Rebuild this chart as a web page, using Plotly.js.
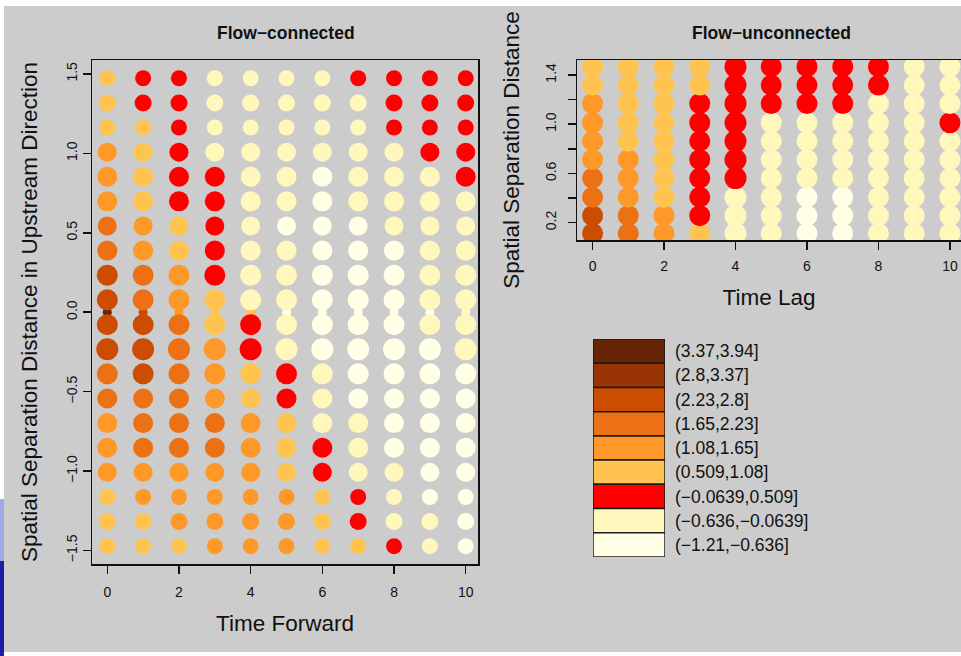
<!DOCTYPE html>
<html>
<head>
<meta charset="utf-8">
<script src="https://cdn.plot.ly/plotly-3.0.1.min.js"></script>
<style>
  html, body { margin: 0; padding: 0; background: #ffffff; overflow: hidden; }
  #chart { width: 961px; height: 656px; }
</style>
</head>
<body>
<div id="chart"></div>
<script>
// ---------- DATA ----------
// Bin classes (1 = lowest bin ... 9 = highest bin)
const binLabels = ['(3.37,3.94]', '(2.8,3.37]', '(2.23,2.8]', '(1.65,2.23]', '(1.08,1.65]',
                   '(0.509,1.08]', '(\u22120.0639,0.509]', '(\u22120.636,\u22120.0639]', '(\u22121.21,\u22120.636]'];
const binClasses = [9, 8, 7, 6, 5, 4, 3, 2, 1];
const binColors = { 1: '#FFFFE5', 2: '#FFF7BC', 3: '#FF0000', 4: '#FEC44F', 5: '#FE9929',
                    6: '#EC7014', 7: '#CC4C02', 8: '#993404', 9: '#662506' };

// Flow-connected panel
const timeForward = [0, 1, 2, 3, 4, 5, 6, 7, 8, 9, 10];
const connSeparation = [1.473, 1.318, 1.163, 1.008, 0.853, 0.698, 0.543, 0.388, 0.233, 0.078,
                        -0.078, -0.233, -0.388, -0.543, -0.698, -0.853, -1.008, -1.163, -1.318, -1.473];
const connRowSize = [16, 17, 16, 19, 20, 20, 19, 20, 21, 21, 21, 22, 21, 20, 20, 20, 19, 16, 17, 16];
const connClass = [
  [4, 3, 3, 2, 2, 2, 2, 3, 3, 3, 3],
  [4, 3, 3, 2, 2, 2, 2, 2, 3, 3, 3],
  [4, 4, 3, 2, 2, 2, 2, 2, 3, 3, 3],
  [5, 4, 3, 2, 2, 2, 2, 2, 2, 3, 3],
  [5, 4, 3, 3, 2, 2, 1, 2, 2, 2, 3],
  [5, 4, 3, 3, 2, 2, 1, 2, 2, 2, 2],
  [6, 5, 4, 3, 2, 1, 1, 1, 2, 2, 2],
  [6, 5, 4, 3, 2, 2, 1, 1, 1, 2, 2],
  [7, 6, 5, 3, 2, 2, 1, 1, 1, 2, 2],
  [7, 6, 5, 4, 2, 2, 1, 1, 1, 2, 2],
  [7, 7, 6, 4, 3, 2, 1, 1, 1, 2, 2],
  [7, 7, 6, 5, 3, 2, 1, 1, 1, 1, 2],
  [6, 7, 6, 5, 4, 3, 2, 1, 1, 1, 1],
  [6, 6, 6, 5, 4, 3, 2, 1, 1, 1, 1],
  [5, 6, 6, 6, 5, 4, 2, 2, 1, 1, 1],
  [5, 6, 6, 6, 5, 4, 3, 2, 1, 1, 1],
  [5, 5, 5, 5, 5, 4, 3, 2, 2, 1, 1],
  [4, 5, 5, 5, 5, 5, 4, 3, 2, 1, 1],
  [4, 4, 5, 5, 5, 5, 4, 3, 2, 2, 1],
  [4, 4, 4, 5, 5, 5, 4, 4, 3, 2, 1]
];
// zero-separation row (small points)
const connZeroSeparation = 0;
const connZeroSize = 9;
const connZeroClass = [9, 7, 5, 4, 4, 1, 1, 1, 1, 1, 2];

// Flow-unconnected panel
const timeLag = [0, 1, 2, 3, 4, 5, 6, 7, 8, 9, 10];
const unconnSeparation = [1.468, 1.318, 1.168, 1.012, 0.862, 0.712, 0.562, 0.407, 0.257, 0.113];
const unconnSize = [21, 21, 21, 21, 22, 21, 21, 21, 21, 21, 21];
const unconnClass = [
  [4, 4, 4, 4, 3, 3, 3, 3, 3, 2, 2],
  [4, 4, 4, 4, 3, 3, 3, 3, 3, 2, 2],
  [5, 4, 4, 3, 3, 3, 3, 3, 2, 2, 2],
  [5, 4, 4, 3, 3, 2, 2, 2, 2, 2, 3],
  [5, 4, 4, 3, 3, 2, 2, 2, 2, 2, 2],
  [5, 5, 4, 3, 3, 2, 2, 2, 2, 2, 2],
  [6, 5, 4, 3, 3, 2, 2, 2, 2, 2, 2],
  [6, 5, 4, 3, 2, 2, 1, 1, 2, 2, 2],
  [7, 6, 5, 3, 2, 2, 1, 1, 2, 2, 2],
  [7, 6, 5, 4, 2, 2, 1, 1, 2, 2, 2]
];

// ---------- BUILD TRACES ----------
function buildPoints(xs, ys, classes, sizeFn) {
  const px = [], py = [], pc = [], ps = [];
  // draw from bottom row to top row (higher rows on top)
  const order = ys.map((v, i) => i).sort((a, b) => ys[a] - ys[b]);
  order.forEach(r => {
    xs.forEach((x, c) => {
      px.push(x); py.push(ys[r]);
      pc.push(binColors[classes[r][c]]);
      ps.push(sizeFn(r, c));
    });
  });
  return { px, py, pc, ps };
}

const conn = buildPoints(timeForward, connSeparation, connClass, (r) => connRowSize[r]);
const unconn = buildPoints(timeLag, unconnSeparation, unconnClass, (r, c) => unconnSize[c]);

const traces = [
  {
    type: 'scatter', mode: 'markers', xaxis: 'x', yaxis: 'y',
    x: timeForward, y: timeForward.map(() => connZeroSeparation),
    marker: { color: connZeroClass.map(k => binColors[k]), size: connZeroSize, line: { width: 0 } },
    hoverinfo: 'skip', showlegend: false
  },
  {
    type: 'scatter', mode: 'markers', xaxis: 'x', yaxis: 'y',
    x: conn.px, y: conn.py,
    marker: { color: conn.pc, size: conn.ps, line: { width: 0 }, opacity: 1 },
    showlegend: false
  },
  {
    type: 'scatter', mode: 'markers', xaxis: 'x2', yaxis: 'y2',
    x: unconn.px, y: unconn.py, cliponaxis: true,
    marker: { color: unconn.pc, size: unconn.ps, line: { width: 0 }, opacity: 1 },
    showlegend: false
  },
  {
    type: 'bar', orientation: 'h', xaxis: 'x3', yaxis: 'y3',
    y: binLabels, x: binLabels.map(() => 1), width: binLabels.map(() => 1),
    marker: { color: binClasses.map(k => binColors[k]), line: { color: '#1a1a1a', width: 1.5 } },
    hoverinfo: 'skip', showlegend: false
  }
];

// ---------- LAYOUT ----------
const W = 961, H = 656;
const FONT = 'Liberation Sans, Arial, sans-serif';
const INK = '#111111';
const px2x = p => p / W;
const px2y = p => 1 - p / H;

const axisCommon = {
  showgrid: false, zeroline: false, showline: true, linecolor: INK, linewidth: 1.5,
  ticks: 'outside', ticklen: 8, tickwidth: 1.5, tickcolor: INK,
  tickfont: { family: FONT, size: 14, color: INK },
  fixedrange: true
};
const titleFont = { family: FONT, size: 22.5, color: INK };

const layout = {
  width: W, height: H,
  margin: { l: 0, r: 0, t: 0, b: 0, pad: 0 },
  paper_bgcolor: '#ffffff',
  plot_bgcolor: 'rgba(0,0,0,0)',
  font: { family: FONT, color: INK },
  showlegend: false,
  xaxis: Object.assign({}, axisCommon, {
    domain: [px2x(92), px2x(478)], range: [-0.427, 10.343], anchor: 'y',
    tickvals: [0, 2, 4, 6, 8, 10], mirror: true, ticklabelstandoff: 7,
    title: { text: 'Time Forward', font: titleFont, standoff: 16 }
  }),
  yaxis: Object.assign({}, axisCommon, {
    domain: [px2y(564), px2y(60)], range: [-1.585, 1.588], anchor: 'x',
    tickvals: [-1.5, -1, -0.5, 0, 0.5, 1, 1.5], tickformat: '.1f', tickangle: -90, mirror: true,
    ticklabelstandoff: 0,
    title: { text: 'Spatial Separation Distance in Upstream Direction', font: titleFont, standoff: 20 }
  }),
  xaxis2: Object.assign({}, axisCommon, {
    domain: [px2x(577), 1], range: [-0.435, 10.31], anchor: 'y2',
    tickvals: [0, 2, 4, 6, 8, 10], mirror: true, layer: 'below traces', ticklabelstandoff: 5,
    title: { text: 'Time Lag', font: titleFont, standoff: 16 }
  }),
  yaxis2: Object.assign({}, axisCommon, {
    domain: [px2y(240), px2y(60)], range: [0.059, 1.522], anchor: 'x2',
    tickvals: [0.2, 0.4, 0.6, 0.8, 1.0, 1.2, 1.4], ticktext: ['0.2', '', '0.6', '', '1.0', '', '1.4'],
    tickangle: -90, mirror: false, layer: 'below traces', ticklabelstandoff: 6,
    title: { text: 'Spatial Separation Distance', font: titleFont, standoff: 17 }
  }),
  xaxis3: {
    domain: [px2x(593), px2x(665)], range: [0, 1], anchor: 'y3',
    visible: false, fixedrange: true
  },
  yaxis3: {
    domain: [px2y(557), px2y(339)], anchor: 'x3', type: 'category', side: 'right',
    autorange: 'reversed', showgrid: false, zeroline: false, showline: false, ticks: '',
    ticklabelstandoff: 9, tickfont: { family: FONT, size: 17.5, color: INK }, fixedrange: true
  },
  bargap: 0,
  annotations: [
    { text: '<b>Flow\u2212connected</b>', xref: 'paper', yref: 'paper', x: px2x(286), y: px2y(33),
      xanchor: 'center', yanchor: 'middle', showarrow: false, font: { family: FONT, size: 17.5, color: INK } },
    { text: '<b>Flow\u2212unconnected</b>', xref: 'paper', yref: 'paper', x: px2x(771), y: px2y(33),
      xanchor: 'center', yanchor: 'middle', showarrow: false, font: { family: FONT, size: 17.5, color: INK } }
  ],
  shapes: [
    // grey device background
    { type: 'rect', xref: 'paper', yref: 'paper', layer: 'below',
      x0: px2x(4), x1: 1, y0: px2y(652), y1: px2y(6), fillcolor: '#cccccc', line: { width: 0 } },
    // page-edge stripes
    { type: 'rect', xref: 'paper', yref: 'paper', layer: 'below',
      x0: 0, x1: px2x(4), y0: px2y(561), y1: px2y(499), fillcolor: '#9ea9e6', line: { width: 0 } },
    { type: 'rect', xref: 'paper', yref: 'paper', layer: 'below',
      x0: 0, x1: px2x(4), y0: 0, y1: px2y(561), fillcolor: '#1c1ca6', line: { width: 0 } }
  ]
};

Plotly.newPlot('chart', traces, layout, { staticPlot: true, displayModeBar: false });
</script>
</body>
</html>
